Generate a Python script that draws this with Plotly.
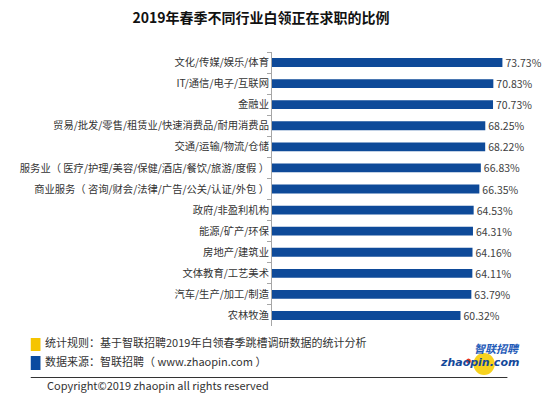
import plotly.graph_objects as go

categories = [
    "文化/传媒/娱乐/体育",
    "IT/通信/电子/互联网",
    "金融业",
    "贸易/批发/零售/租赁业/快速消费品/耐用消费品",
    "交通/运输/物流/仓储",
    "服务业（ 医疗/护理/美容/保健/酒店/餐饮/旅游/度假 ）",
    "商业服务（ 咨询/财会/法律/广告/公关/认证/外包 ）",
    "政府/非盈利机构",
    "能源/矿产/环保",
    "房地产/建筑业",
    "文体教育/工艺美术",
    "汽车/生产/加工/制造",
    "农林牧渔",
]
values = [73.73, 70.83, 70.73, 68.25, 68.22, 66.83, 66.35, 64.53, 64.31, 64.16, 64.11, 63.79, 60.32]
value_labels = [f"{v:.2f}%" for v in values]

title_text = "2019年春季不同行业白领正在求职的比例"
note_rule = "统计规则：基于智联招聘2019年白领春季跳槽调研数据的统计分析"
note_source = "数据来源：智联招聘（ www.zhaopin.com ）"
copyright_text = "Copyright©2019 zhaopin all rights reserved"

# the page body has an 8px margin: work in reference pixels, shifted by 8
OFF = 8
W, H = 550 - OFF, 396 - OFF
L, T = 265 - OFF, 52 - OFF
PW, PH = 257, 274
R, B = W - L - PW, H - T - PH

def px(x):
    return (x - OFF - L) / PW

def py(y):
    return (H - B - (y - OFF)) / PH

CJK = "Noto Sans CJK SC"
BLUE = "#0E4A99"

fig = go.Figure(go.Bar(
    x=values, y=categories, orientation="h",
    marker=dict(color=BLUE, line=dict(width=0)),
    text=value_labels, textposition="outside", constraintext="none",
    textfont=dict(family=CJK, size=10.5, color="#404040"),
    cliponaxis=False, width=0.42,
))

fig.update_layout(
    width=W, height=H,
    margin=dict(l=L, r=R, t=T, b=B, pad=0),
    paper_bgcolor="white", plot_bgcolor="white",
    showlegend=False,
    title=dict(text="<b>" + title_text + "</b>", x=(261 - OFF) / W, xanchor="center",
               xref="container", y=1 - (18 - OFF) / H, yanchor="middle",
               font=dict(family=CJK, size=14, color="#111111")),
    xaxis=dict(range=[0, 80], visible=False, fixedrange=True),
    yaxis=dict(autorange="reversed", showline=True, linecolor="#A6A6A6", linewidth=1,
               ticks="outside", ticklen=4, tickcolor="#A6A6A6", tickson="boundaries",
               tickfont=dict(family=CJK, size=10.3, color="#333333"),
               showgrid=False, zeroline=False, fixedrange=True),
)

shapes = [
    dict(type="rect", xref="paper", yref="paper", x0=px(17), x1=px(27), y0=py(351), y1=py(338),
         fillcolor="#F5C400", line=dict(width=0)),
    dict(type="rect", xref="paper", yref="paper", x0=px(17), x1=px(27), y0=py(370), y1=py(356),
         fillcolor="#0A4BA0", line=dict(width=0)),
    dict(type="line", xref="paper", yref="paper", x0=px(17), x1=px(507), y0=py(377.5), y1=py(377.5),
         line=dict(color="#333333", width=1)),
    dict(type="circle", xref="paper", yref="paper", x0=px(472), x1=px(494), y0=py(375), y1=py(353),
         fillcolor="#F7D21E", line=dict(width=0)),
    dict(type="circle", xref="paper", yref="paper", x0=px(464.5), x1=px(469.5), y0=py(363.5), y1=py(358.5),
         fillcolor="#E8341C", line=dict(width=0)),
]
fig.update_layout(shapes=shapes)

ann = [
    dict(text=note_rule, x=px(30), y=py(341.5), xanchor="left", yanchor="middle",
         font=dict(family=CJK, size=11, color="#333333")),
    dict(text=note_source, x=px(30), y=py(360.5), xanchor="left", yanchor="middle",
         font=dict(family=CJK, size=11, color="#333333")),
    dict(text=copyright_text, x=px(32), y=py(385), xanchor="left", yanchor="middle",
         font=dict(family=CJK, size=11, color="#333333")),
    dict(text="<b><i>智联招聘</i></b>", x=px(522), y=py(348), xanchor="right", yanchor="middle",
         font=dict(family=CJK, size=11, color="#1F5BB8")),
    dict(text="<b><i>zhaopin.com</i></b>", x=px(521), y=py(362.5), xanchor="right", yanchor="middle",
         font=dict(family="DejaVu Sans", size=11, color="#14489A")),
]
for a in ann:
    a.update(xref="paper", yref="paper", showarrow=False)
fig.update_layout(annotations=ann)

fig.write_html("out.html")
